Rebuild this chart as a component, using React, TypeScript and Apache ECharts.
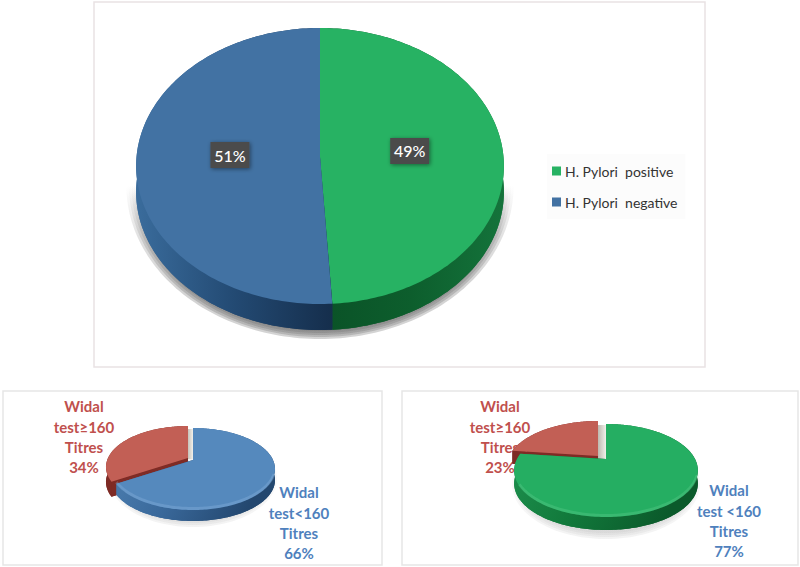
import React, { useEffect, useRef } from "react";
import * as echarts from "echarts";

const topCategories = ["H. Pylori  positive", "H. Pylori  negative"];
const topValues = [49, 51];
const leftCategories = ["Widal test≥160 Titres", "Widal test<160 Titres"];
const leftValues = [34, 66];
const rightCategories = ["Widal test≥160 Titres ", "Widal test <160 Titres"];
const rightValues = [23, 77];

const leftRedLines = ["Widal", "test≥160", "Titres", "34%"];
const leftBlueLines = ["Widal", "test<160", "Titres", "66%"];
const rightRedLines = ["Widal", "test≥160", "Titres", "23%"];
const rightBlueLines = ["Widal", "test <160", "Titres", "77%"];

const FONT = "Lato, 'Open Sans', sans-serif";

type Geo = { cx: number; ay: number; rx: number; back: number; front: number; thick: number };
const topGeo: Geo = { cx: 320, ay: 157, rx: 183.5, back: 129, front: 147, thick: 26 };
const leftGeo: Geo = { cx: 193, ay: 460, rx: 80, back: 32, front: 50, thick: 11 };
const leftRedGeo: Geo = { cx: 193, ay: 460, rx: 80, back: 32, front: 50, thick: 15 };
const rightGeo: Geo = { cx: 606, ay: 459, rx: 89, back: 35, front: 58, thick: 13 };

function project(g: Geo, dx: number, dy: number, frac: number, t: number): number[] {
  const k = (g.back - g.front) / (g.back + g.front);
  const ry = g.front * (1 + k);
  const u = Math.sin(t);
  const v = -Math.cos(t);
  const w = 1 + k * v;
  return [g.cx + dx + (frac * g.rx * u) / w, g.ay + dy + (frac * ry * v) / w];
}

function rim(g: Geo, dx: number, dy: number, a0: number, a1: number): number[][] {
  const out: number[][] = [];
  const n = Math.max(2, Math.ceil(Math.abs(a1 - a0) / 0.02));
  for (let i = 0; i <= n; i++) out.push(project(g, dx, dy, 1, a0 + ((a1 - a0) * i) / n));
  return out;
}

const grad = (x2: number, y2: number, stops: string[]) =>
  new echarts.graphic.LinearGradient(
    0,
    0,
    x2,
    y2,
    stops.map((color, i) => ({ offset: i / (stops.length - 1), color }))
  );

type SliceOpt = {
  name: string;
  geo: Geo;
  start: number;
  value: number;
  total: number;
  face: string;
  side: any;
  dx?: number;
  dy?: number;
  boxLabel?: boolean;
  bevel?: string;
};

function sliceSeries(o: SliceOpt) {
  const dx = o.dx || 0;
  const dy = o.dy || 0;
  return {
    type: "custom",
    name: o.name,
    coordinateSystem: "none",
    silent: true,
    z: 3,
    itemStyle: { color: o.face },
    data: [[o.start, o.value, o.total]],
    renderItem: (_p: any, api: any) => {
      const a0 = (api.value(0) / api.value(2)) * Math.PI * 2;
      const a1 = a0 + (api.value(1) / api.value(2)) * Math.PI * 2;
      const g = o.geo;
      const apex = [g.cx + dx, g.ay + dy];
      const edge = rim(g, dx, dy, a0, a1);
      const down = (p: number[]) => [p[0], p[1] + g.thick];
      const children: any[] = [];
      const base = [apex, ...edge].map(down);
      children.push({ type: "polygon", shape: { points: base }, style: { fill: o.side } });
      const wall = (a: number[], b: number[]) => ({
        type: "polygon",
        shape: { points: [a, b, down(b), down(a)] },
        style: { fill: o.side },
      });
      children.push(wall(apex, edge[0]));
      children.push(wall(apex, edge[edge.length - 1]));
      children.push({
        type: "polygon",
        shape: { points: [...edge, ...edge.slice().reverse().map(down)] },
        style: { fill: o.side },
      });
      children.push({
        type: "polygon",
        shape: { points: [apex, ...edge] },
        style: { fill: o.face },
      });
      if (o.bevel) {
        const arc = rim(g, dx, dy, Math.PI * 0.62, Math.min(a1, Math.PI * 1.32)).map((p) => [p[0], p[1] - 1.5]);
        children.push({
          type: "polyline",
          shape: { points: arc },
          style: { stroke: o.bevel, lineWidth: 3, fill: "none" },
        });
      }
      if (o.boxLabel) {
        const mid = project(g, dx, dy, 0.49, (a0 + a1) / 2);
        const ly = mid[1] - 4;
        children.push({
          type: "rect",
          shape: { x: mid[0] - 19.5, y: ly - 13, width: 39, height: 26 },
          style: {
            fill: "#4b4b4b",
            shadowBlur: 4,
            shadowColor: "rgba(0,0,0,0.45)",
            shadowOffsetX: 1,
            shadowOffsetY: 1,
          },
        });
        children.push({
          type: "text",
          x: mid[0],
          y: ly,
          style: {
            text: `${api.value(1)}%`,
            fill: "#ffffff",
            font: `500 16px ${FONT}`,
            align: "center",
            verticalAlign: "middle",
          },
        });
      }
      return { type: "group", children };
    },
  };
}

function softShadow(name: string, cx: number, cy: number, rx: number, ry: number, layers: number, stepX: number, stepY: number, stops: string[], half: boolean) {
  return {
    type: "custom",
    name,
    coordinateSystem: "none",
    silent: true,
    z: 2,
    data: [[layers]],
    renderItem: (_p: any, api: any) => {
      const count = api.value(0);
      const children: any[] = [];
      for (let l = count - 1; l >= 0; l--) {
        const pts: number[][] = [];
        const from = half ? Math.PI / 2 : 0;
        const to = half ? (Math.PI * 3) / 2 : Math.PI * 2;
        for (let i = 0; i <= 120; i++) {
          const t = from + ((to - from) * i) / 120;
          pts.push([cx + (rx + l * stepX) * Math.sin(t), cy - (ry + l * stepY) * Math.cos(t)]);
        }
        children.push({
          type: "polygon",
          shape: { points: pts },
          style: { fill: grad(0, 1, stops) },
        });
      }
      return { type: "group", children };
    },
  };
}

function textSeries(name: string, lines: string[], x: number, y: number, color: string) {
  return {
    type: "custom",
    name,
    coordinateSystem: "none",
    silent: true,
    z: 1,
    data: [[lines.length]],
    renderItem: () => ({
      type: "text",
      x,
      y,
      style: {
        text: lines.join("\n"),
        fill: color,
        font: `700 15px ${FONT}`,
        lineHeight: 20.4,
        align: "center",
        verticalAlign: "top",
      },
    }),
  };
}

function notch(name: string, x: number, y: number, w: number, h: number) {
  return {
    type: "custom",
    name,
    coordinateSystem: "none",
    silent: true,
    z: 2,
    data: [[h]],
    renderItem: () => ({
      type: "rect",
      shape: { x, y, width: w, height: h },
      style: { fill: grad(1, 0, ["#bdb9b0", "#f2f0ea"]) },
    }),
  };
}

const RED_FACE = "#c25f55";
const RED_SIDE = "#7e2b25";

export default function App() {
  const ref = useRef<HTMLDivElement>(null);
  useEffect(() => {
    if (!ref.current) return;
    const chart = echarts.init(ref.current, undefined, { renderer: "svg" });
    const frame = (x: number, y: number, width: number, height: number, stroke: string) => ({
      type: "rect",
      shape: { x, y, width, height },
      style: { fill: "#ffffff", stroke, lineWidth: 1.5 },
      z: 0,
    });
    chart.setOption({
      animation: false,
      backgroundColor: "#ffffff",
      legend: {
        data: topCategories,
        orient: "vertical",
        left: 547,
        top: 154,
        padding: [10, 8, 10, 5],
        itemGap: 17,
        itemWidth: 9,
        itemHeight: 9,
        icon: "rect",
        backgroundColor: "#fcfcfc",
        selectedMode: false,
        textStyle: { fontFamily: FONT, fontSize: 14, color: "#333333", padding: [0, 0, 0, -1] },
      },
      graphic: [
        frame(94, 2, 611, 365, "#e9e2e4"),
        frame(3, 391, 379, 174, "#e6e6e6"),
        frame(402, 391, 396, 174, "#e6e6e6"),
      ],
      series: [
        softShadow("top shadow", 320, 186, 178, 141, 7, 2.6, 2, ["rgba(120,120,120,0)", "rgba(120,120,120,0.22)", "rgba(110,110,110,0.3)", "rgba(110,110,110,0.3)"], true),
        softShadow("left shadow", 193, 478, 78, 43, 4, 2, 2, ["rgba(170,170,170,0)", "rgba(170,170,170,0.14)"], false),
        softShadow("right shadow", 606, 484, 88, 49, 4, 2, 2, ["rgba(170,170,170,0)", "rgba(170,170,170,0.14)"], false),
        textSeries("left red label", leftRedLines, 84, 396, "#c0504d"),
        textSeries("left blue label", leftBlueLines, 299, 482, "#4f81bd"),
        textSeries("right red label", rightRedLines, 500, 396, "#c0504d"),
        textSeries("right blue label", rightBlueLines, 729, 480, "#4f81bd"),
        sliceSeries({
          name: topCategories[0],
          geo: topGeo,
          start: 0,
          value: topValues[0],
          total: topValues[0] + topValues[1],
          face: "#27b263",
          side: grad(1, 0, ["#0a5227", "#0d5e2d", "#14733b"]),
          boxLabel: true,
        }),
        sliceSeries({
          name: topCategories[1],
          geo: topGeo,
          start: topValues[0],
          value: topValues[1],
          total: topValues[0] + topValues[1],
          face: "#4272a3",
          side: grad(1, 0, ["#3a6c9c", "#234a73", "#152e4c"]),
          boxLabel: true,
        }),
        notch("left notch", 187, 429, 6, 30),
        sliceSeries({
          name: leftCategories[0],
          geo: leftRedGeo,
          start: leftValues[1],
          value: leftValues[0],
          total: leftValues[0] + leftValues[1],
          face: RED_FACE,
          side: RED_SIDE,
          dx: -5,
          dy: -2,
        }),
        sliceSeries({
          name: leftCategories[1],
          geo: leftGeo,
          start: 0,
          value: leftValues[1],
          total: leftValues[0] + leftValues[1],
          face: "#5589bd",
          side: grad(1, 0.3, ["#4f82b4", "#3a699b", "#23476f"]),
          bevel: "rgba(150,190,230,0.3)",
        }),
        notch("right notch", 598, 425, 8, 34),
        sliceSeries({
          name: rightCategories[0],
          geo: rightGeo,
          start: rightValues[1],
          value: rightValues[0],
          total: rightValues[0] + rightValues[1],
          face: RED_FACE,
          side: RED_SIDE,
          dx: -8,
          dy: -3,
        }),
        sliceSeries({
          name: rightCategories[1],
          geo: rightGeo,
          start: 0,
          value: rightValues[1],
          total: rightValues[0] + rightValues[1],
          face: "#25ae62",
          side: grad(1, 0.3, ["#1f9350", "#127a3c", "#0b5a2b"]),
          bevel: "rgba(120,220,160,0.25)",
        }),
      ],
    });
    return () => chart.dispose();
  }, []);
  return <div ref={ref} style={{ position: "absolute", left: 0, top: 0, width: 800, height: 567 }} />;
}
